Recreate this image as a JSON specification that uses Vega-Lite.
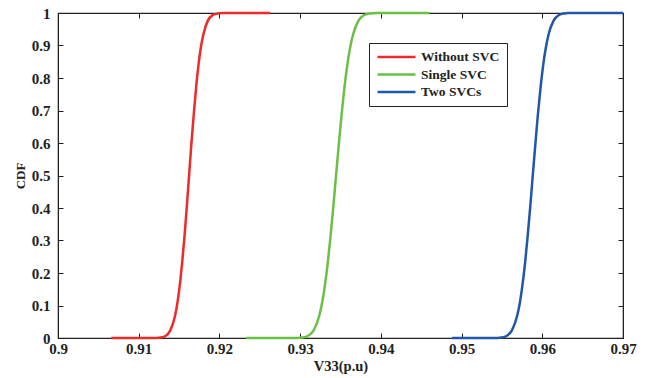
{
  "$schema": "https://vega.github.io/schema/vega-lite/v6.json",
  "autosize": "none",
  "width": 565,
  "height": 325,
  "padding": {"left": 58, "top": 13, "right": 23, "bottom": 40},
  "background": "white",
  "config": {
    "view": {"stroke": "#222", "strokeWidth": 1.2},
    "font": "Liberation Serif",
    "axis": {
      "labelFont": "Liberation Serif", "labelFontWeight": "bold", "labelFontSize": 15, "labelColor": "#222",
      "titleFont": "Liberation Serif", "titleFontWeight": "bold", "titleFontSize": 14.5, "titleColor": "#222",
      "domainColor": "#222", "tickColor": "#222", "tickSize": -5, "grid": false
    },
    "legend": {
      "labelFont": "Liberation Serif", "labelFontWeight": "bold", "labelFontSize": 13.5, "labelColor": "#222"
    }
  },
  "data": {"values": [
    {"v": 0.9066, "cdf": 0, "s": "Without SVC"},
    {"v": 0.9122, "cdf": 0, "s": "Without SVC"},
    {"v": 0.91273, "cdf": 0.0013, "s": "Without SVC"},
    {"v": 0.91332, "cdf": 0.0062, "s": "Without SVC"},
    {"v": 0.91390, "cdf": 0.0228, "s": "Without SVC"},
    {"v": 0.91449, "cdf": 0.0668, "s": "Without SVC"},
    {"v": 0.91478, "cdf": 0.1056, "s": "Without SVC"},
    {"v": 0.91507, "cdf": 0.1587, "s": "Without SVC"},
    {"v": 0.91536, "cdf": 0.2266, "s": "Without SVC"},
    {"v": 0.91566, "cdf": 0.3085, "s": "Without SVC"},
    {"v": 0.91595, "cdf": 0.4013, "s": "Without SVC"},
    {"v": 0.91624, "cdf": 0.5, "s": "Without SVC"},
    {"v": 0.91653, "cdf": 0.5987, "s": "Without SVC"},
    {"v": 0.91683, "cdf": 0.6915, "s": "Without SVC"},
    {"v": 0.91712, "cdf": 0.7734, "s": "Without SVC"},
    {"v": 0.91741, "cdf": 0.8413, "s": "Without SVC"},
    {"v": 0.91770, "cdf": 0.8944, "s": "Without SVC"},
    {"v": 0.91800, "cdf": 0.9332, "s": "Without SVC"},
    {"v": 0.91858, "cdf": 0.9772, "s": "Without SVC"},
    {"v": 0.91917, "cdf": 0.9938, "s": "Without SVC"},
    {"v": 0.91975, "cdf": 0.9987, "s": "Without SVC"},
    {"v": 0.9205, "cdf": 1, "s": "Without SVC"},
    {"v": 0.9263, "cdf": 1, "s": "Without SVC"},
    {"v": 0.9233, "cdf": 0, "s": "Single SVC"},
    {"v": 0.9297, "cdf": 0, "s": "Single SVC"},
    {"v": 0.93025, "cdf": 0.0013, "s": "Single SVC"},
    {"v": 0.93095, "cdf": 0.0062, "s": "Single SVC"},
    {"v": 0.93165, "cdf": 0.0228, "s": "Single SVC"},
    {"v": 0.93235, "cdf": 0.0668, "s": "Single SVC"},
    {"v": 0.93270, "cdf": 0.1056, "s": "Single SVC"},
    {"v": 0.93305, "cdf": 0.1587, "s": "Single SVC"},
    {"v": 0.93340, "cdf": 0.2266, "s": "Single SVC"},
    {"v": 0.93375, "cdf": 0.3085, "s": "Single SVC"},
    {"v": 0.93410, "cdf": 0.4013, "s": "Single SVC"},
    {"v": 0.93445, "cdf": 0.5, "s": "Single SVC"},
    {"v": 0.93480, "cdf": 0.5987, "s": "Single SVC"},
    {"v": 0.93515, "cdf": 0.6915, "s": "Single SVC"},
    {"v": 0.93550, "cdf": 0.7734, "s": "Single SVC"},
    {"v": 0.93585, "cdf": 0.8413, "s": "Single SVC"},
    {"v": 0.93620, "cdf": 0.8944, "s": "Single SVC"},
    {"v": 0.93655, "cdf": 0.9332, "s": "Single SVC"},
    {"v": 0.93725, "cdf": 0.9772, "s": "Single SVC"},
    {"v": 0.93795, "cdf": 0.9938, "s": "Single SVC"},
    {"v": 0.93865, "cdf": 0.9987, "s": "Single SVC"},
    {"v": 0.9394, "cdf": 1, "s": "Single SVC"},
    {"v": 0.9460, "cdf": 1, "s": "Single SVC"},
    {"v": 0.9488, "cdf": 0, "s": "Two SVCs"},
    {"v": 0.9545, "cdf": 0, "s": "Two SVCs"},
    {"v": 0.95492, "cdf": 0.0013, "s": "Two SVCs"},
    {"v": 0.95557, "cdf": 0.0062, "s": "Two SVCs"},
    {"v": 0.95622, "cdf": 0.0228, "s": "Two SVCs"},
    {"v": 0.95687, "cdf": 0.0668, "s": "Two SVCs"},
    {"v": 0.95720, "cdf": 0.1056, "s": "Two SVCs"},
    {"v": 0.95752, "cdf": 0.1587, "s": "Two SVCs"},
    {"v": 0.95785, "cdf": 0.2266, "s": "Two SVCs"},
    {"v": 0.95817, "cdf": 0.3085, "s": "Two SVCs"},
    {"v": 0.95850, "cdf": 0.4013, "s": "Two SVCs"},
    {"v": 0.95882, "cdf": 0.5, "s": "Two SVCs"},
    {"v": 0.95915, "cdf": 0.5987, "s": "Two SVCs"},
    {"v": 0.95947, "cdf": 0.6915, "s": "Two SVCs"},
    {"v": 0.95980, "cdf": 0.7734, "s": "Two SVCs"},
    {"v": 0.96012, "cdf": 0.8413, "s": "Two SVCs"},
    {"v": 0.96045, "cdf": 0.8944, "s": "Two SVCs"},
    {"v": 0.96077, "cdf": 0.9332, "s": "Two SVCs"},
    {"v": 0.96142, "cdf": 0.9772, "s": "Two SVCs"},
    {"v": 0.96207, "cdf": 0.9938, "s": "Two SVCs"},
    {"v": 0.96272, "cdf": 0.9987, "s": "Two SVCs"},
    {"v": 0.9632, "cdf": 1, "s": "Two SVCs"},
    {"v": 0.9700, "cdf": 1, "s": "Two SVCs"}
  ]},
  "layer": [
    {
      "mark": {"type": "line", "strokeWidth": 2.5, "interpolate": "monotone"},
      "encoding": {
        "x": {"field": "v", "type": "quantitative", "scale": {"domain": [0.9, 0.97], "nice": false, "zero": false},
              "axis": {"title": "V33(p.u)", "values": [0.9, 0.91, 0.92, 0.93, 0.94, 0.95, 0.96, 0.97], "format": "~g", "labelPadding": 8, "titlePadding": 3, "labelFlush": false}},
        "y": {"field": "cdf", "type": "quantitative", "scale": {"domain": [0, 1], "nice": false},
              "axis": {"title": "CDF", "titleFontSize": 13, "values": [0, 0.1, 0.2, 0.3, 0.4, 0.5, 0.6, 0.7, 0.8, 0.9, 1], "format": "~g", "labelPadding": 13, "titlePadding": 4, "labelFlush": false}},
        "color": {"field": "s", "type": "nominal",
                  "scale": {"domain": ["Without SVC", "Single SVC", "Two SVCs"], "range": ["#ee2a2a", "#6cbf45", "#2156a8"]},
                  "legend": {"title": null, "orient": "none", "legendX": 311, "legendY": 30, "symbolType": "stroke", "symbolSize": 1444, "symbolStrokeWidth": 2.5, "strokeColor": "#222", "fillColor": "white", "padding": 7, "clipHeight": 14, "rowPadding": 3.5, "labelOffset": 4}}
      }
    },
    {
      "mark": {"type": "line", "opacity": 0},
      "encoding": {
        "x": {"field": "v", "type": "quantitative", "axis": {"orient": "top", "labels": false, "title": null, "values": [0.9, 0.91, 0.92, 0.93, 0.94, 0.95, 0.96, 0.97]}},
        "y": {"field": "cdf", "type": "quantitative", "axis": {"orient": "right", "labels": false, "title": null, "values": [0, 0.1, 0.2, 0.3, 0.4, 0.5, 0.6, 0.7, 0.8, 0.9, 1]}}
      }
    }
  ],
  "resolve": {"axis": {"x": "independent", "y": "independent"}}
}
